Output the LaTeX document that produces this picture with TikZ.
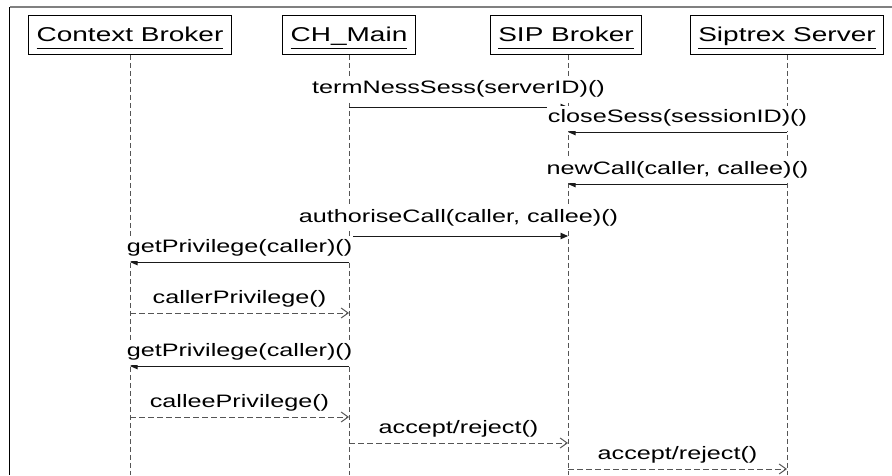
\documentclass[tikz,border=0pt]{standalone}
\usepackage{fontspec}
\setmainfont{Liberation Sans}[FakeStretch=1.4]
\usetikzlibrary{arrows.meta}
\definecolor{lifegray}{HTML}{555555}
\definecolor{msgline}{HTML}{1A1A1A}
\newcommand{\hdrtext}[1]{\setbox0=\hbox{#1}\rlap{\rule[-7.5pt]{\wd0}{1pt}}\box0}

\begin{document}
\begin{tikzpicture}[x=1pt,y=-1pt,>=Latex,every node/.style={font=\fontsize{18}{20}\selectfont},
  actor/.style={draw=black,line width=0.8pt,fill=white,inner xsep=8pt,minimum height=39pt,text height=20pt,text depth=6.5pt,font=\fontsize{20}{22}\selectfont},
  lifeline/.style={draw=lifegray,line width=1pt,dash pattern=on 5pt off 3pt},
  call/.style={draw=msgline,line width=0.9pt,-{Triangle[length=7.5pt,width=6.5pt]}},
  reply/.style={draw=lifegray,line width=1pt,dash pattern=on 6pt off 3pt,-{Straight Barb[length=7pt,width=10pt,line width=1pt]}},
  msglbl/.style={fill=white,inner xsep=1pt,inner ysep=4pt}]
\useasboundingbox (0,0) rectangle (892,475);
% frame
\draw[gray,line width=1.5pt] (892,7) -- (9.5,7);
\draw[black,line width=1.5pt] (9.5,7) -- (9.5,475);
% objects
\node[actor,anchor=north] (cb) at (130,15) {\hdrtext{Context Broker}};
\node[actor,anchor=north] (chmain) at (349,15) {\hdrtext{CH\_Main}};
\node[actor,anchor=north] (sip) at (566,15) {\hdrtext{SIP Broker}};
\node[actor,anchor=north] (siptrex) at (787,15) {\hdrtext{Siptrex Server}};
\foreach \n in {cb,chmain,siptrex}{\draw[lifeline] (\n.south) -- (\n.south |- 0,475);}
\draw[lifeline] (sip.south -| 568,0) -- (568,475);
\coordinate (sipl) at (568,0);
% messages
\draw[call] (chmain |- 0,107) -- node[msglbl,above=5pt]{termNessSess(serverID)()} (sipl |- 0,107);
\draw[call] (siptrex |- 0,132) -- node[msglbl,above=1pt]{closeSess(sessionID)()} (sipl |- 0,132);
\draw[call] (siptrex |- 0,184) -- node[msglbl,above=1pt]{newCall(caller, callee)()} (sipl |- 0,184);
\draw[call] (chmain |- 0,236) -- node[msglbl,above=5pt]{authoriseCall(caller, callee)()} (sipl |- 0,236);
\draw[call] (chmain |- 0,262) -- node[msglbl,above=1pt]{getPrivilege(caller)()} (cb |- 0,262);
\draw[reply] (cb |- 0,313) -- node[msglbl,above=1pt]{callerPrivilege()} (chmain |- 0,313);
\draw[call] (chmain |- 0,366) -- node[msglbl,above=1pt]{getPrivilege(caller)()} (cb |- 0,366);
\draw[reply] (cb |- 0,417) -- node[msglbl,above=1pt]{calleePrivilege()} (chmain |- 0,417);
\draw[reply] (chmain |- 0,443) -- node[msglbl,above=1pt]{accept/reject()} (sipl |- 0,443);
\draw[reply] (sipl |- 0,469) -- node[msglbl,above=1pt]{accept/reject()} (siptrex |- 0,469);
\end{tikzpicture}
\end{document}
